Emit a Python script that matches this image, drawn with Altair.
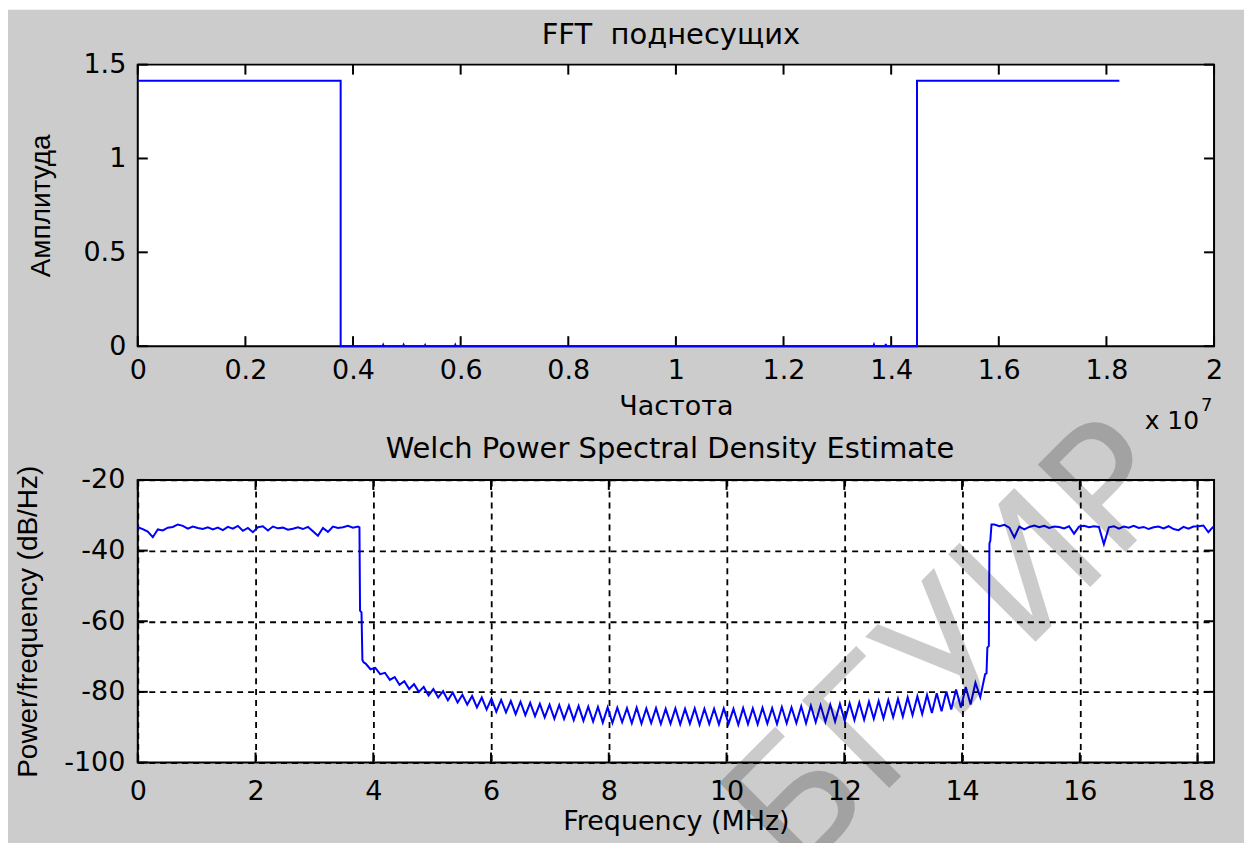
import altair as alt
import pandas as pd

# ---------------- data ----------------
# FFT magnitude of the OFDM subcarrier block (top panel), frequency in Hz
fft_freq_hz = [0.0, 3.77e6, 3.77e6, 4.55e6, 4.56e6, 4.57e6, 4.93e6, 4.94e6, 4.95e6,
               5.33e6, 5.34e6, 5.35e6, 5.89e6, 5.90e6, 5.91e6, 13.67e6, 13.68e6, 13.69e6,
               13.89e6, 13.90e6, 13.91e6, 14.48e6, 14.48e6, 18.24e6]
fft_amplitude = [1.414, 1.414, 0.0, 0.0, 0.007, 0.0, 0.0, 0.007, 0.0,
                 0.0, 0.006, 0.0, 0.0, 0.007, 0.0, 0.0, 0.008, 0.0,
                 0.0, 0.012, 0.0, 0.0, 1.414, 1.414]

# Welch PSD estimate (bottom panel), dB/Hz against MHz
psd_low_start, psd_low_step = 0.0, 0.085
psd_low_db = [-33.4, -33.9, -34.6, -36.2, -34.0, -34.3, -33.5, -33.3, -32.6, -33.0,
              -33.8, -33.2, -33.6, -33.9, -33.4, -34.0, -33.5, -34.2, -33.3, -33.8,
              -33.0, -34.4, -33.6, -34.8, -33.4, -33.1, -34.3, -33.2, -33.7, -33.5,
              -34.1, -33.8, -33.4, -33.9, -33.3, -34.5, -35.8, -33.6, -34.7, -33.2,
              -33.6, -33.4, -33.0, -33.5, -33.2]

psd_fall_mhz = [3.765, 3.775, 3.80, 3.815, 3.835]
psd_fall_db = [-33.4, -57.0, -57.5, -71.0, -71.6]

psd_ripple_start, psd_ripple_step = 3.87, 0.0822
psd_ripple_db = [-72.0, -73.6, -73.2, -75.0, -74.6, -76.6, -75.8, -78.0, -77.0, -79.2,
                 -77.8, -80.0, -78.6, -81.0, -79.2, -81.6, -79.8, -82.4, -80.2, -83.0,
                 -80.8, -83.6, -81.2, -84.4, -81.6, -85.0, -81.9, -85.6, -82.3, -85.8,
                 -82.6, -86.3, -82.8, -86.6, -83.1, -86.9, -83.4, -87.2, -83.6, -87.6,
                 -83.7, -87.7, -83.9, -88.0, -84.0, -88.2, -84.2, -88.4, -84.3, -88.7,
                 -84.4, -88.8, -84.5, -88.6, -84.6, -88.9, -84.5, -89.0, -84.7, -88.8,
                 -84.6, -89.1, -84.8, -89.0, -84.7, -89.2, -84.8, -89.0, -84.7, -89.3,
                 -84.8, -89.1, -84.8, -89.2, -84.7, -89.0, -84.8, -89.3, -84.6, -89.1,
                 -84.7, -89.2, -84.5, -89.0, -84.6, -89.1, -84.3, -88.9, -84.4, -88.8,
                 -84.1, -88.9, -83.9, -88.6, -83.8, -88.5, -83.6, -88.4, -83.4, -88.2,
                 -83.2, -88.0, -83.0, -87.9, -82.8, -87.6, -82.6, -87.5, -82.3, -87.2,
                 -82.0, -87.0, -81.6, -86.6, -81.3, -86.3, -80.9, -86.0, -80.4, -85.5,
                 -79.9, -85.0, -79.3, -84.4, -78.6, -83.6, -77.4, -81.5, -75.0]

psd_rise_mhz = [14.415, 14.43, 14.455, 14.465, 14.48, 14.50]
psd_rise_db = [-74.8, -67.5, -67.0, -38.0, -37.2, -32.6]

psd_high_start, psd_high_step = 14.55, 0.0845
psd_high_db = [-32.6, -33.1, -32.7, -33.5, -36.3, -33.2, -34.0, -33.3, -32.9, -33.4,
               -33.0, -33.6, -33.2, -33.3, -33.7, -33.1, -35.2, -33.2, -33.0, -33.4,
               -33.1, -33.3, -38.2, -33.4, -33.1, -33.8, -33.2, -33.5, -33.0, -33.6,
               -33.3, -33.9, -33.4, -33.2, -33.7, -33.1, -33.9, -34.2, -33.3, -33.8,
               -33.2, -33.1, -32.9, -34.8, -33.2]

# tick positions
top_x_ticks = [0, 2e6, 4e6, 6e6, 8e6, 10e6, 12e6, 14e6, 16e6, 18e6, 20e6]
top_y_ticks = [0, 0.5, 1, 1.5]
bot_x_ticks = [0, 2, 4, 6, 8, 10, 12, 14, 16, 18]
bot_y_ticks = [-100, -80, -60, -40, -20]

# ---------------- layout / style ----------------
W = 1078
H_TOP = 282
H_BOT = 283
GAP = 134
TICK = 10
LEFT, TOP = 137, 63
PAGE_W, PAGE_H = 1245, 843
FONT = "DejaVu Sans"
VFONT = "Liberation Sans"
BLUE = "#0000ff"
GREY = "#cccccc"
EDGE = 2


def grid(start, step, n):
    return [round(start + step * k, 4) for k in range(n)]


psd_freq = (grid(psd_low_start, psd_low_step, len(psd_low_db)) + psd_fall_mhz
            + grid(psd_ripple_start, psd_ripple_step, len(psd_ripple_db)) + psd_rise_mhz
            + grid(psd_high_start, psd_high_step, len(psd_high_db)))
psd_db = psd_low_db + psd_fall_db + psd_ripple_db + psd_rise_db + psd_high_db

fft_df = pd.DataFrame({"f": fft_freq_hz, "a": fft_amplitude, "k": range(len(fft_freq_hz))})
psd_df = pd.DataFrame({"f": psd_freq, "p": psd_db, "k": range(len(psd_freq))})
one = pd.DataFrame({"k": [0]})

top_xs = alt.Scale(domain=[0, 2e7], nice=False, zero=False)
top_ys = alt.Scale(domain=[0, 1.5], nice=False, zero=False)
bot_xs = alt.Scale(domain=[0, 18.28], nice=False, zero=False)
bot_ys = alt.Scale(domain=[-100, -20], nice=False, zero=False)

label_kw = dict(labelFont=FONT, labelFontSize=27, labelColor="black", ticks=False,
                tickSize=0, domain=False, labelFlush=False, labelOverlap=False,
                labelBound=False, titleFontWeight="normal", titleColor="black")
grid_kw = dict(grid=True, gridColor="black", gridDash=[6, 5], gridWidth=1.8, gridOpacity=1)

# one axis definition per channel, shared by every layer of a panel
top_x_axis = alt.Axis(
    orient="bottom", values=top_x_ticks, labelExpr="format(datum.value / 1e7, '~g')",
    title="Частота", titleFont=FONT, titleFontSize=27, titlePadding=10,
    labelPadding=11, grid=False, zindex=1, **label_kw)
top_y_axis = alt.Axis(
    orient="left", values=top_y_ticks, format="~g", title="Амплитуда", titleFont=VFONT,
    titleFontSize=28, titleAngle=270, titleBaseline="alphabetic", titleAlign="center",
    titleX=-88, titleY=H_TOP / 2, labelPadding=12, grid=False, zindex=1, **label_kw)
bot_x_axis = alt.Axis(
    orient="bottom", values=bot_x_ticks, labelExpr="'' + datum.value",
    title="Frequency (MHz)", titleFont=FONT, titleFontSize=27, titlePadding=4,
    labelPadding=16, **grid_kw, **label_kw)
bot_y_axis = alt.Axis(
    orient="left", values=bot_y_ticks, labelExpr="'' + datum.value",
    title="Power/frequency (dB/Hz)", titleFont=VFONT, titleFontSize=28, titleAngle=270,
    titleBaseline="alphabetic", titleAlign="center", titleX=-101, titleY=H_BOT / 2,
    labelPadding=13, **grid_kw, **label_kw)


def inward_ticks(xscale, yscale, xaxis, yaxis, xt, yt, h):
    xd = pd.DataFrame({"t": xt})
    yd = pd.DataFrame({"t": yt})
    r = dict(color="black", strokeWidth=EDGE)
    xb = alt.Chart(xd).mark_rule(**r).encode(
        x=alt.X("t:Q", scale=xscale, axis=xaxis), y=alt.value(h), y2=alt.value(h - TICK))
    xt_ = alt.Chart(xd).mark_rule(**r).encode(
        x=alt.X("t:Q", scale=xscale, axis=xaxis), y=alt.value(0), y2=alt.value(TICK))
    yl = alt.Chart(yd).mark_rule(**r).encode(
        y=alt.Y("t:Q", scale=yscale, axis=yaxis), x=alt.value(0), x2=alt.value(TICK))
    yr = alt.Chart(yd).mark_rule(**r).encode(
        y=alt.Y("t:Q", scale=yscale, axis=yaxis), x=alt.value(W), x2=alt.value(W - TICK))
    return [xb, xt_, yl, yr]


# ---------------- top panel: FFT of subcarriers ----------------
page = alt.Chart(one).mark_rect(color=GREY).encode(
    x=alt.value(7 - LEFT), x2=alt.value(PAGE_W - LEFT),
    y=alt.value(8 - TOP), y2=alt.value(PAGE_H - TOP))
frame = alt.Chart(one).mark_rect(fill="white", stroke="black", strokeWidth=EDGE).encode(
    x=alt.value(0), x2=alt.value(W), y=alt.value(0), y2=alt.value(H_TOP))

fft_line = alt.Chart(fft_df).mark_line(color=BLUE, strokeWidth=2).encode(
    x=alt.X("f:Q", scale=top_xs, axis=top_x_axis),
    y=alt.Y("a:Q", scale=top_ys, axis=top_y_axis),
    order="k:Q")

top_title = alt.Chart(one).mark_text(
    text="FFT\u00a0 поднесущих", font=FONT, fontSize=29, align="center",
    baseline="alphabetic", color="black").encode(x=alt.value(534), y=alt.value(-21))
exp_base = alt.Chart(one).mark_text(
    text="x 10", font=FONT, fontSize=25, align="right",
    baseline="alphabetic", color="black").encode(x=alt.value(1063), y=alt.value(365))
exp_pow = alt.Chart(one).mark_text(
    text="7", font=FONT, fontSize=18, align="left",
    baseline="alphabetic", color="black").encode(x=alt.value(1065), y=alt.value(347))

top = alt.layer(
    page, frame,
    *inward_ticks(top_xs, top_ys, top_x_axis, top_y_axis, top_x_ticks, top_y_ticks, H_TOP),
    fft_line, top_title, exp_base, exp_pow
).properties(width=W, height=H_TOP)

# ---------------- bottom panel: Welch PSD ----------------
psd_line = alt.Chart(psd_df).mark_line(color=BLUE, strokeWidth=2).encode(
    x=alt.X("f:Q", scale=bot_xs, axis=bot_x_axis),
    y=alt.Y("p:Q", scale=bot_ys, axis=bot_y_axis),
    order="k:Q")

bot_title = alt.Chart(one).mark_text(
    text="Welch Power Spectral Density Estimate", font=FONT, fontSize=29,
    align="center", baseline="alphabetic", color="black"
).encode(x=alt.value(533), y=alt.value(-22))

watermark = alt.Chart(one).mark_text(
    text="БГУИР", font=FONT, fontSize=170, angle=315, align="center",
    baseline="middle", color="black", opacity=0.2
).encode(x=alt.value(818), y=alt.value(171))

bottom = alt.layer(
    *inward_ticks(bot_xs, bot_ys, bot_x_axis, bot_y_axis, bot_x_ticks, bot_y_ticks, H_BOT),
    psd_line, bot_title, watermark
).properties(width=W, height=H_BOT)

chart = alt.vconcat(top, bottom, spacing=GAP, bounds="flush").properties(
    background="white",
    padding={"left": 7, "top": 8, "right": 0, "bottom": 0},
).configure_view(fill="white", stroke="black", strokeWidth=EDGE)

chart.save("out.html", embed_options={"renderer": "svg", "actions": False})
